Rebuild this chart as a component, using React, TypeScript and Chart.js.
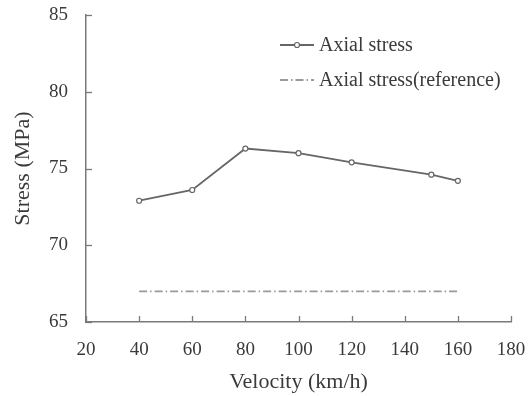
import React, { useEffect, useRef } from "react";
import { Chart, registerables } from "chart.js";

Chart.register(...registerables);

const velocities = [40, 60, 80, 100, 120, 150, 160];
const axialStress = [72.9, 73.6, 76.3, 76.0, 75.4, 74.6, 74.2];
const refVelocities = [40, 160];
const refStress = [67, 67];
const seriesLabels = ["Axial stress", "Axial stress(reference)"];
const xTitle = "Velocity (km/h)";
const yTitle = "Stress (MPa)";

const FONT = "'Liberation Serif', 'DejaVu Serif', serif";
const TEXT = "#3a3a3a";
const AXIS = "#7a7a7a";

const inwardTicks = {
  id: "inwardTicks",
  afterDraw(chart: any) {
    const ctx = chart.ctx;
    const { left, bottom } = chart.chartArea;
    const xs = chart.scales.x;
    const ys = chart.scales.y;
    ctx.save();
    ctx.strokeStyle = AXIS;
    ctx.lineWidth = 1.3;
    ys.ticks.forEach((t: any) => {
      const y = Math.round(ys.getPixelForValue(t.value)) + 0.5;
      ctx.beginPath();
      ctx.moveTo(left, y);
      ctx.lineTo(left + 6, y);
      ctx.stroke();
    });
    xs.ticks.forEach((t: any) => {
      const x = Math.round(xs.getPixelForValue(t.value)) + 0.5;
      ctx.beginPath();
      ctx.moveTo(x, bottom);
      ctx.lineTo(x, bottom - 6);
      ctx.stroke();
    });
    ctx.restore();
  },
};

const innerLegend = {
  id: "innerLegend",
  afterDraw(chart: any) {
    const ctx = chart.ctx;
    const x0 = 280;
    const x1 = 314;
    const tx = 319;
    const rows = [45, 80];
    ctx.save();
    chart.data.datasets.forEach((ds: any, i: number) => {
      const y = rows[i];
      ctx.strokeStyle = ds.borderColor;
      ctx.lineWidth = ds.borderWidth;
      ctx.setLineDash(ds.borderDash || []);
      ctx.beginPath();
      ctx.moveTo(x0, y);
      ctx.lineTo(x1, y);
      ctx.stroke();
      ctx.setLineDash([]);
      if (ds.pointRadius > 0) {
        ctx.beginPath();
        ctx.fillStyle = "#fff";
        ctx.arc((x0 + x1) / 2, y, ds.pointRadius, 0, Math.PI * 2);
        ctx.fill();
        ctx.lineWidth = ds.pointBorderWidth;
        ctx.stroke();
      }
      ctx.fillStyle = TEXT;
      ctx.font = `20px ${FONT}`;
      ctx.textBaseline = "middle";
      ctx.textAlign = "left";
      ctx.fillText(ds.label, tx, y + 1);
    });
    ctx.restore();
  },
};

export default function App() {
  const ref = useRef<HTMLCanvasElement>(null);
  useEffect(() => {
    document.body.style.margin = "0";
    const chart = new Chart(ref.current!, {
      type: "line",
      data: {
        datasets: [
          {
            label: seriesLabels[0],
            data: velocities.map((v, i) => ({ x: v, y: axialStress[i] })),
            borderColor: "#666666",
            borderWidth: 1.8,
            pointRadius: 2.5,
            pointBorderWidth: 1.2,
            pointBackgroundColor: "#ffffff",
            pointBorderColor: "#666666",
            tension: 0,
          },
          {
            label: seriesLabels[1],
            data: refVelocities.map((v, i) => ({ x: v, y: refStress[i] })),
            borderColor: "#9a9a9a",
            borderWidth: 1.8,
            borderDash: [8, 3, 1.5, 3],
            pointRadius: 0,
            tension: 0,
          },
        ],
      },
      options: {
        animation: false,
        responsive: false,
        layout: { padding: { left: 9, right: 20, top: 15, bottom: 0 } },
        plugins: { legend: { display: false }, tooltip: { enabled: false } },
        scales: {
          x: {
            type: "linear",
            min: 20,
            max: 180,
            grid: { display: false, drawTicks: false },
            border: { display: true, color: AXIS, width: 1.5 },
            ticks: {
              stepSize: 20,
              padding: 17,
              color: TEXT,
              font: { family: FONT, size: 19 },
            },
            title: {
              display: true,
              text: xTitle,
              color: TEXT,
              padding: { top: 0, bottom: 1 },
              font: { family: FONT, size: 22 },
            },
            afterFit: (s: any) => {
              s.height = 74;
              s.paddingLeft = 0;
              s.paddingRight = 0;
            },
          },
          y: {
            type: "linear",
            min: 65,
            max: 85,
            grid: { display: false, drawTicks: false },
            border: { display: true, color: AXIS, width: 1.5 },
            ticks: {
              stepSize: 5,
              padding: 18,
              color: TEXT,
              font: { family: FONT, size: 19 },
            },
            title: {
              display: true,
              text: yTitle,
              color: TEXT,
              padding: { top: 1, bottom: 0 },
              font: { family: FONT, size: 22 },
            },
            afterFit: (s: any) => {
              s.width = 77;
              s.paddingTop = 0;
              s.paddingBottom = 0;
            },
          },
        },
      },
      plugins: [inwardTicks, innerLegend],
    });
    return () => chart.destroy();
  }, []);
  return <canvas ref={ref} width={531} height={396} />;
}
